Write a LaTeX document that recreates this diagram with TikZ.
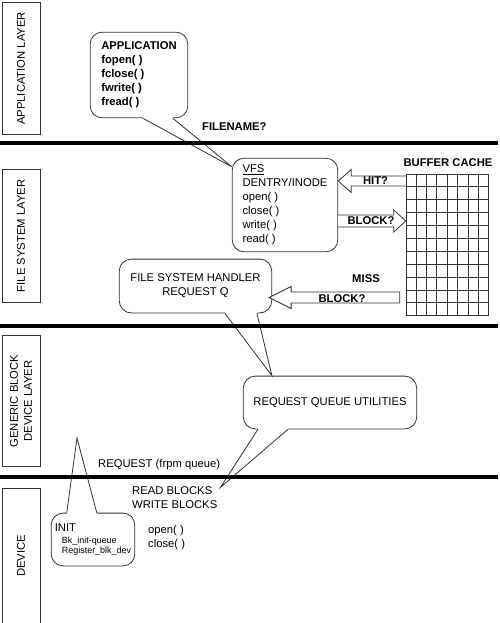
\documentclass[tikz,border=0pt]{standalone}
\usepackage{fontspec}
\setmainfont{Liberation Sans}
\usetikzlibrary{calc,positioning}
\tikzstyle{layer}=[draw=black!80, line width=0.8, rotate=90, inner sep=0, align=center]
\tikzstyle{bubble}=[draw=black!80, line width=0.8, rounded corners=12, inner sep=0]
\tikzstyle{tail}=[draw=black!80, line width=0.8]
\tikzstyle{blk}=[draw=black!80, line width=0.8, fill=white]
\tikzstyle{gline}=[draw=black!80, line width=0.8]
\tikzstyle{lbl}=[inner sep=0, font=\fontsize{11.3}{14}\selectfont\bfseries]
\tikzstyle{txt}=[inner sep=0, align=left, anchor=west]
\tikzstyle{bar}=[line width=4.5]

\begin{document}
\begin{tikzpicture}[x=1bp,y=-1bp,font=\fontsize{11.3}{14}\selectfont]
\clip (0,0) rectangle (500,623);

% layers
\node (applayer) [layer, minimum width=133, minimum height=38] at (21,68.5) {APPLICATION LAYER};
\node (fslayer) [layer, minimum width=134, minimum height=38] at (21,236) {FILE SYSTEM LAYER};
\node (gblayer) [layer, minimum width=132, minimum height=38] at (21,401) {GENERIC BLOCK\\DEVICE LAYER};
\node (devlayer) [layer, minimum width=136, minimum height=38] at (21,556) {DEVICE};

% bubbles
\node (app) [bubble, minimum width=98, minimum height=86, align=left, font=\fontsize{11.3}{14}\selectfont\bfseries] at (139,75) {APPLICATION\\fopen( )\\fclose( )\\fwrite( )\\fread( )};
\node (vfs) [bubble, minimum width=106, minimum height=94, align=left] at (285,205) {\underline{VFS}\\DENTRY/INODE\\open( )\\close( )\\write( )\\read( )};
\node (fsh) [bubble, minimum width=153, minimum height=54, align=center] at (195.5,286) {FILE SYSTEM HANDLER\\REQUEST Q};
\node (rqu) [bubble, minimum width=174, minimum height=53] at (330,402.5) {REQUEST QUEUE UTILITIES};
\node (init) [bubble, minimum width=84, minimum height=53, align=left] at (93,539.5) {INIT\\[-2pt]{\fontsize{9}{10}\selectfont\hspace{7bp}Bk\_init-queue}\\[-4pt]{\fontsize{9}{10}\selectfont\hspace{7bp}Register\_blk\_dev}};

% plain texts
\node (fname) [lbl, anchor=west] at (202,127) {FILENAME?};
\node (bcache) [lbl] at (448,163) {BUFFER CACHE};
\node (miss) [lbl] at (366,279) {MISS};
\node (req) [txt] at (98,465) {REQUEST (frpm queue)};
\node (rwb) [txt] at (132,497.5) {READ BLOCKS\\WRITE BLOCKS};
\node (oc) [txt] at (148,537.5) {open( )\\close( )};
\coordinate (initp) at (77,438);

% tails
\fill[white] ($(app.south west)+(53,-2)$) -- ($(app.south west)+(53,0)$) -- ($(vfs.north west)+(0,9)$) -- ($(app.south west)+(83,0)$) -- ($(app.south west)+(83,-2)$) -- cycle;
\draw[tail] ($(app.south west)+(53,0)$) -- ($(vfs.north west)+(0,9)$) -- ($(app.south west)+(83,0)$);
\fill[white] ($(fsh.south west)+(106,-2)$) -- ($(fsh.south west)+(106,0)$) -- ($(rqu.north west)+(29,0)$) -- ($(fsh.south west)+(138,0)$) -- ($(fsh.south west)+(138,-2)$) -- cycle;
\draw[tail] ($(fsh.south west)+(106,0)$) -- ($(rqu.north west)+(29,0)$) -- ($(fsh.south west)+(138,0)$);
\fill[white] ($(rqu.south west)+(15,-2)$) -- ($(rqu.south west)+(15,0)$) -- ($(rwb.north east)+(3,1)$) -- ($(rqu.south west)+(45,0)$) -- ($(rqu.south west)+(45,-2)$) -- cycle;
\draw[tail] ($(rqu.south west)+(15,0)$) -- ($(rwb.north east)+(3,1)$) -- ($(rqu.south west)+(45,0)$);
\fill[white] ($(init.north west)+(16,2)$) -- ($(init.north west)+(16,0)$) -- (initp) -- ($(init.north west)+(46,0)$) -- ($(init.north west)+(46,2)$) -- cycle;
\draw[tail] ($(init.north west)+(16,0)$) -- (initp) -- ($(init.north west)+(46,0)$);

% buffer cache
\node (cache) [draw=black!80, line width=0.8, minimum width=83, minimum height=142, inner sep=0] at (447.5,245) {};
\foreach \i in {1,...,7}
  \draw[gline] ($(cache.north west)+(\i*10.375,0)$) -- ($(cache.south west)+(\i*10.375,0)$);
\foreach \j in {1,...,10}
  \draw[gline] ($(cache.north west)+(0,\j*12.9)$) -- ($(cache.north east)+(0,\j*12.9)$);

% block arrows
\coordinate (h1) at (0,181);
\coordinate (h2) at (0,221);
\coordinate (h3) at (0,297.5);
\draw[blk] ($(cache.west |- h1)+(0,-5)$) -- ($(vfs.east |- h1)+(13,-5)$) -- ($(vfs.east |- h1)+(13,-11.5)$) -- (vfs.east |- h1) -- ($(vfs.east |- h1)+(13,11.5)$) -- ($(vfs.east |- h1)+(13,5)$) -- ($(cache.west |- h1)+(0,5)$);
\draw[blk] ($(vfs.east |- h2)+(0,-6)$) -- ($(cache.west |- h2)+(-12,-6)$) -- ($(cache.west |- h2)+(-12,-11)$) -- (cache.west |- h2) -- ($(cache.west |- h2)+(-12,11)$) -- ($(cache.west |- h2)+(-12,6)$) -- ($(vfs.east |- h2)+(0,6)$);
\draw[blk] ($(cache.west |- h3)+(-6,-5.5)$) -- ($(fsh.east |- h3)+(19,-5.5)$) -- ($(fsh.east |- h3)+(19,-11)$) -- ($(fsh.east |- h3)+(-3,0)$) -- ($(fsh.east |- h3)+(19,11)$) -- ($(fsh.east |- h3)+(19,5.5)$) -- ($(cache.west |- h3)+(-6,5.5)$) -- cycle;
\node (hit) [lbl] at (375.5,180.5) {HIT?};
\node (blk1) [lbl] at (371,221) {BLOCK?};
\node (blk2) [lbl] at (342,299) {BLOCK?};

% layer bars
\draw[bar] (0,143) -- (498,143);
\draw[bar] (0,326) -- (498,326);
\draw[bar] (0,477) -- (498,477);
\end{tikzpicture}
\end{document}
